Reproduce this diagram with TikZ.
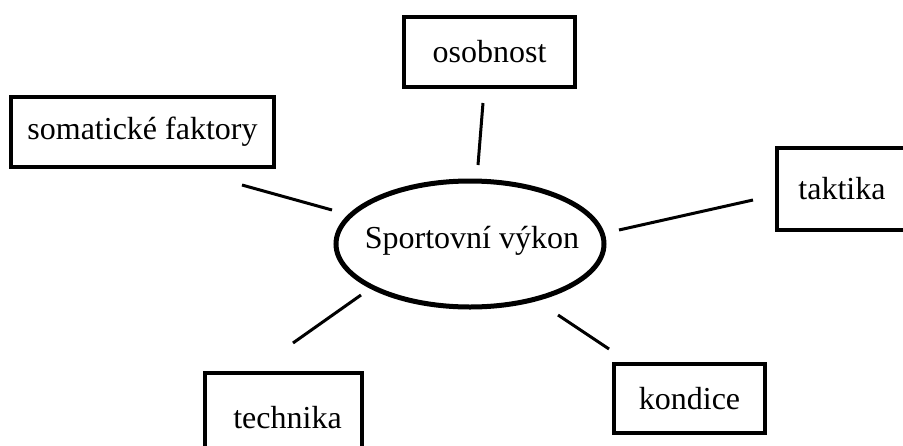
\documentclass[tikz,border=0pt]{standalone}
\usepackage{fontspec}
\setmainfont{Liberation Serif}
\tikzset{
  factor/.style={draw, line width=3.5pt, inner sep=0pt, font=\fontsize{32}{38}\selectfont},
  spoke/.style={line width=3pt}
}
\begin{document}
\begin{tikzpicture}[x=1pt, y=-1pt]
        \useasboundingbox (0,0) rectangle (903,445);
        \node[inner sep=0pt, font=\fontsize{32}{38}\selectfont] (vykon) at (472,241) {Sportovní výkon};
        \draw[line width=5pt] (470,244) ellipse [x radius=134, y radius=63];
        \node[factor, minimum width=263pt, minimum height=70pt] (somatic) at (142.5,132) {somatické faktory};
        \node[factor, minimum width=171pt, minimum height=70pt] (osobnost) at (489.5,52) {osobnost};
        \node[factor, minimum width=130pt, minimum height=82pt] (taktika) at (842,189) {taktika};
        \node[factor, minimum width=151pt, minimum height=69pt] (kondice) at (689.5,398.5) {kondice};
        \node[factor, minimum width=157pt, minimum height=90pt, text width=157pt, align=center] (technika) at (283.5,418) {\hspace*{8pt}technika\\[6pt]};
        \coordinate (s1) at (242,185);
        \coordinate (s2) at (332,210);
        \coordinate (o1) at (483,103);
        \coordinate (o2) at (478,165);
        \coordinate (t1) at (753,200);
        \coordinate (t2) at (619,230);
        \coordinate (e1) at (361,295);
        \coordinate (e2) at (293,343);
        \coordinate (k1) at (558,315);
        \coordinate (k2) at (609,349);
        \draw[spoke] (s1) -- (s2);
        \draw[spoke] (o1) -- (o2);
        \draw[spoke] (t1) -- (t2);
        \draw[spoke] (e1) -- (e2);
        \draw[spoke] (k1) -- (k2);
    \end{tikzpicture}
\end{document}
